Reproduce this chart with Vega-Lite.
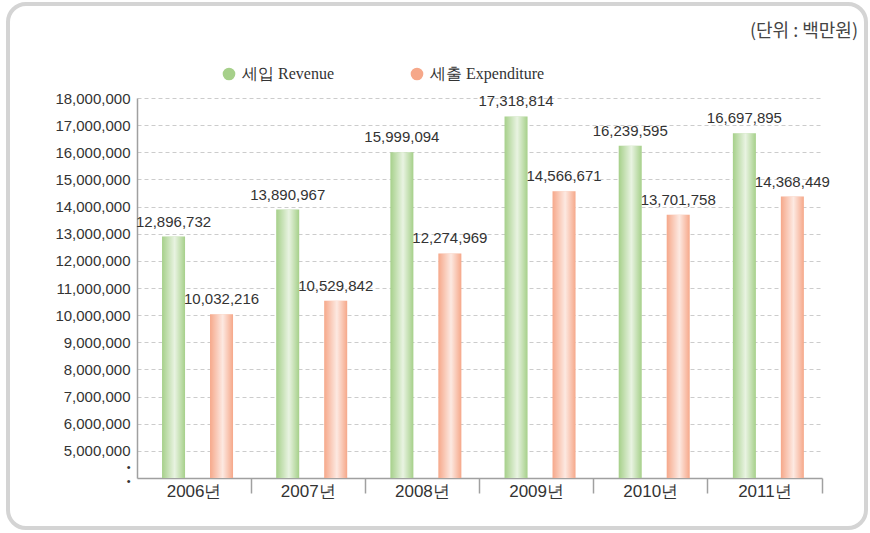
{
  "$schema": "https://vega.github.io/schema/vega-lite/v6.json",
  "width": 858,
  "height": 524,
  "autosize": {"type": "none"},
  "padding": {"left": 8, "top": 4, "right": 4, "bottom": 5},
  "background": "white",
  "config": {
    "view": {"stroke": "#d4d4d4", "strokeWidth": 4, "cornerRadius": 18, "fill": "white"},
    "font": "Liberation Sans Narrow, Liberation Sans, sans-serif"
  },
  "title": {
    "text": "(단위 : 백만원)",
    "anchor": "end",
    "frame": "group",
    "font": "Noto Sans CJK KR",
    "fontSize": 18,
    "fontWeight": "normal",
    "color": "#444444",
    "dx": -8,
    "dy": 50,
    "baseline": "middle"
  },
  "data": {
    "values": [
      {"year": "2006년", "type": "세입 Revenue", "value": 12896732},
      {"year": "2006년", "type": "세출 Expenditure", "value": 10032216},
      {"year": "2007년", "type": "세입 Revenue", "value": 13890967},
      {"year": "2007년", "type": "세출 Expenditure", "value": 10529842},
      {"year": "2008년", "type": "세입 Revenue", "value": 15999094},
      {"year": "2008년", "type": "세출 Expenditure", "value": 12274969},
      {"year": "2009년", "type": "세입 Revenue", "value": 17318814},
      {"year": "2009년", "type": "세출 Expenditure", "value": 14566671},
      {"year": "2010년", "type": "세입 Revenue", "value": 16239595},
      {"year": "2010년", "type": "세출 Expenditure", "value": 13701758},
      {"year": "2011년", "type": "세입 Revenue", "value": 16697895},
      {"year": "2011년", "type": "세출 Expenditure", "value": 14368449}
    ]
  },
  "encoding": {
    "x": {
      "field": "year",
      "type": "nominal",
      "sort": null,
      "scale": {"range": [129, 814], "paddingInner": 0, "paddingOuter": 0},
      "axis": {
        "title": null,
        "orient": "bottom",
        "offset": -50,
        "bandPosition": 1,
        "ticks": true,
        "tickSize": 15,
        "tickColor": "#a0a0a0",
        "tickWidth": 1.5,
        "domainColor": "#a0a0a0",
        "domainWidth": 1.5,
        "labelFontSize": 17,
        "labelColor": "#333333",
        "labelPadding": -10,
        "labelAngle": 0,
        "grid": false
      }
    },
    "xOffset": {
      "field": "type",
      "type": "nominal",
      "sort": ["세입 Revenue", "세출 Expenditure"],
      "scale": {"paddingInner": 0.521, "paddingOuter": 0.45, "align": 0.58}
    },
    "y": {
      "field": "value",
      "type": "quantitative",
      "scale": {"domain": [4000000, 18000000], "range": [474, 94], "nice": false, "zero": false},
      "axis": {
        "title": null,
        "offset": -129,
        "values": [4400000, 5000000, 6000000, 7000000, 8000000, 9000000, 10000000, 11000000, 12000000, 13000000, 14000000, 15000000, 16000000, 17000000, 18000000],
        "ticks": false,
        "domainColor": "#a0a0a0",
        "domainWidth": 1.5,
        "labelFontSize": {"condition": {"test": "datum.value < 5000000", "value": 11}, "value": 15},
        "labelColor": "#333333",
        "labelPadding": 7,
        "grid": true,
        "gridColor": "#cccccc",
        "gridDash": [4, 3],
        "gridWidth": 1,
        "gridOpacity": {"condition": {"test": "datum.value < 5000000", "value": 0}, "value": 1},
        "labelExpr": "datum.value < 5000000 ? ['•', '•'] : format(datum.value, ',')",
        "labelLineHeight": 14
      }
    }
  },
  "layer": [
    {
      "mark": {"type": "bar", "width": 23},
      "encoding": {
        "y2": {"datum": 4000000},
        "color": {
          "field": "type",
          "type": "nominal",
          "sort": ["세입 Revenue", "세출 Expenditure"],
          "scale": {"domain": ["세입 Revenue", "세출 Expenditure"], "range": ["#a6d08a", "#f6a88a"]},
          "legend": {
            "orient": "none",
            "legendX": 213,
            "legendY": 62,
            "direction": "horizontal",
            "title": null,
            "symbolType": "circle",
            "symbolSize": 160,
            "symbolStrokeWidth": 0,
            "labelFont": "Liberation Serif",
            "labelFontSize": 16,
            "labelColor": "#333333",
            "columnPadding": 75,
            "labelOffset": 5
          }
        }
      }
    },
    {
      "mark": {
        "type": "bar",
        "width": 23,
        "fill": {
          "gradient": "linear",
          "x1": 0, "x2": 1, "y1": 0, "y2": 0,
          "stops": [
            {"offset": 0, "color": "rgba(255,255,255,0)"},
            {"offset": 0.55, "color": "rgba(255,255,255,0.75)"},
            {"offset": 1, "color": "rgba(255,255,255,0)"}
          ]
        }
      },
      "encoding": {"y2": {"datum": 4000000}}
    },
    {
      "mark": {"type": "text", "baseline": "bottom", "dy": -7, "fontSize": 15, "color": "#333333"},
      "encoding": {"text": {"field": "value", "type": "quantitative", "format": ","}}
    }
  ]
}
